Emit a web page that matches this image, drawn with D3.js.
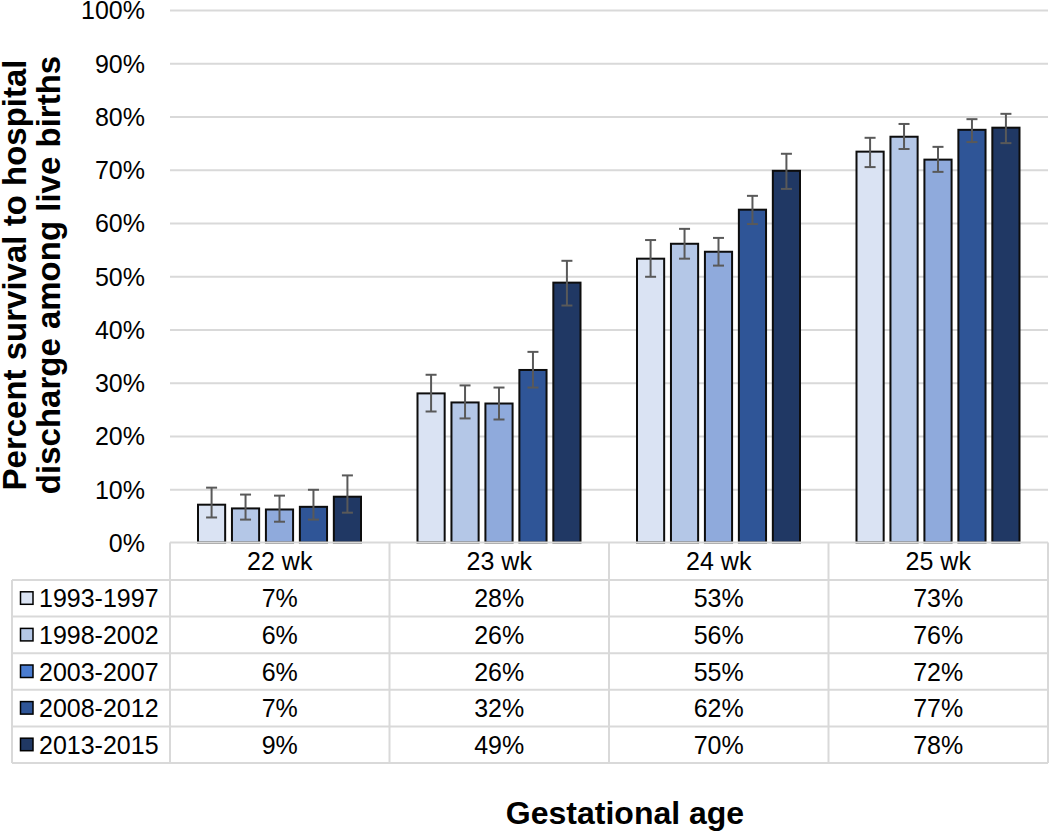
<!DOCTYPE html>
<html>
<head>
<meta charset="utf-8">
<script src="https://cdn.jsdelivr.net/npm/d3@7"></script>
<style>
  html, body { margin: 0; padding: 0; background: #fff; }
  svg { display: block; font-family: "Liberation Sans", Arial, sans-serif; }
</style>
</head>
<body>
<svg id="chart" width="1050" height="832"></svg>
<script>
// ---- data ----
const categories = ["22 wk", "23 wk", "24 wk", "25 wk"];
const seriesNames = ["1993-1997", "1998-2002", "2003-2007", "2008-2012", "2013-2015"];
const values1993 = [7.1, 28.0, 53.3, 73.4];
const values1998 = [6.4, 26.3, 56.1, 76.2];
const values2003 = [6.2, 26.1, 54.6, 71.9];
const values2008 = [6.7, 32.4, 62.5, 77.5];
const values2013 = [8.6, 48.8, 69.8, 77.9];
const low1993 = [4.7, 24.6, 49.9, 70.5];
const low1998 = [4.3, 23.3, 53.3, 73.9];
const low2003 = [3.9, 23.1, 52.0, 69.6];
const low2008 = [4.3, 29.1, 59.8, 75.2];
const low2013 = [5.6, 44.5, 66.4, 75.0];
const high1993 = [10.3, 31.5, 56.8, 76.0];
const high1998 = [9.0, 29.5, 58.9, 78.6];
const high2003 = [8.8, 29.1, 57.2, 74.3];
const high2008 = [9.9, 35.8, 65.1, 79.5];
const high2013 = [12.6, 52.9, 73.0, 80.5];
const table1993 = ["7%", "28%", "53%", "73%"];
const table1998 = ["6%", "26%", "56%", "76%"];
const table2003 = ["6%", "26%", "55%", "72%"];
const table2008 = ["7%", "32%", "62%", "77%"];
const table2013 = ["9%", "49%", "70%", "78%"];
const yTicks = [0, 10, 20, 30, 40, 50, 60, 70, 80, 90, 100];

const barColors = ["#dae3f3", "#b4c7e7", "#8faadc", "#2f5597", "#203864"];
const swatchColors = ["#dae3f3", "#b4c7e7", "#4a7cd0", "#2f5597", "#203864"];

const series = seriesNames.map((name, i) => ({
  name,
  values: [values1993, values1998, values2003, values2008, values2013][i],
  low: [low1993, low1998, low2003, low2008, low2013][i],
  high: [high1993, high1998, high2003, high2008, high2013][i],
  table: [table1993, table1998, table2003, table2008, table2013][i]
}));

// ---- layout ----
const svg = d3.select("#chart");
const plotLeft = 170, plotRight = 1048, plotTop = 10, plotBottom = 542.5;
const tableLeft = 12, headerBottom = 580, rowH = 36.6;
const gridColor = "#d9d9d9";
const fontSize = 25;

const x0 = d3.scaleBand().domain(categories).range([plotLeft, plotRight]);
const x1 = d3.scaleBand().domain(seriesNames).range([28, x0.bandwidth() - 28.5]).paddingInner(0.2);
const y = d3.scaleLinear().domain([0, 100]).range([plotBottom, plotTop]);

// gridlines
const gridAxis = d3.axisLeft(y).tickValues(yTicks.slice(1)).tickSize(-(plotRight - plotLeft)).tickFormat("");
const gg = svg.append("g").attr("transform", `translate(${plotLeft},0)`).call(gridAxis);
gg.select(".domain").remove();
gg.selectAll("line").attr("stroke", gridColor).attr("stroke-width", 2);

// y tick labels
const yAxis = d3.axisLeft(y).tickValues(yTicks).tickSize(0).tickPadding(25).tickFormat(d => d + "%");
const ya = svg.append("g").attr("transform", `translate(${plotLeft},0)`).call(yAxis);
ya.select(".domain").remove();
ya.selectAll("text").attr("font-size", fontSize).attr("fill", "#000")
  .attr("font-family", "'Liberation Sans', Arial, sans-serif").attr("dy", "0.35em");

// bars
const groups = svg.append("g").selectAll("g").data(series).join("g");
groups.each(function (s, si) {
  const g = d3.select(this);
  categories.forEach((c, ci) => {
    const bx = x0(c) + x1(s.name);
    g.append("rect")
      .attr("x", bx).attr("y", y(s.values[ci]))
      .attr("width", x1.bandwidth()).attr("height", y(0) - y(s.values[ci]))
      .attr("fill", barColors[si]).attr("stroke", "#0d0d0d").attr("stroke-width", 2);
  });
});

// error bars
groups.each(function (s) {
  const g = d3.select(this);
  categories.forEach((c, ci) => {
    const cx = x0(c) + x1(s.name) + x1.bandwidth() / 2;
    const yl = y(s.low[ci]), yh = y(s.high[ci]);
    const eb = g.append("g").attr("stroke", "#595959").attr("stroke-width", 2);
    eb.append("line").attr("x1", cx).attr("x2", cx).attr("y1", yl).attr("y2", yh);
    eb.append("line").attr("x1", cx - 5.5).attr("x2", cx + 5.5).attr("y1", yl).attr("y2", yl);
    eb.append("line").attr("x1", cx - 5.5).attr("x2", cx + 5.5).attr("y1", yh).attr("y2", yh);
  });
});

// ---- data table ----
const tb = svg.append("g").attr("stroke", gridColor).attr("stroke-width", 2);
const tableBottom = headerBottom + rowH * series.length;
tb.append("line").attr("x1", plotLeft).attr("x2", plotRight).attr("y1", plotBottom).attr("y2", plotBottom);
for (let i = 0; i <= series.length; i++) {
  const yy = headerBottom + rowH * i;
  tb.append("line").attr("x1", tableLeft).attr("x2", plotRight).attr("y1", yy).attr("y2", yy);
}
tb.append("line").attr("x1", tableLeft).attr("x2", tableLeft).attr("y1", headerBottom).attr("y2", tableBottom);
categories.forEach(c => {
  tb.append("line").attr("x1", x0(c)).attr("x2", x0(c)).attr("y1", plotBottom).attr("y2", tableBottom);
});
tb.append("line").attr("x1", plotRight).attr("x2", plotRight).attr("y1", plotBottom).attr("y2", tableBottom);

// header labels
svg.append("g").selectAll("text").data(categories).join("text")
  .attr("x", d => x0(d) + x0.bandwidth() / 2)
  .attr("y", (plotBottom + headerBottom) / 2 + 8.5)
  .attr("text-anchor", "middle").attr("font-size", fontSize).attr("fill", "#000")
  .text(d => d);

// row labels + values
series.forEach((s, si) => {
  const cy = headerBottom + rowH * si + rowH / 2;
  svg.append("rect").attr("x", 20.5).attr("y", cy - 6.5).attr("width", 12.5).attr("height", 12.5)
    .attr("fill", swatchColors[si]).attr("stroke", "#000").attr("stroke-width", 1.5);
  svg.append("text").attr("x", 39).attr("y", cy + 9).attr("font-size", fontSize).attr("fill", "#000").text(s.name);
  categories.forEach((c, ci) => {
    svg.append("text").attr("x", x0(c) + x0.bandwidth() / 2).attr("y", cy + 9)
      .attr("text-anchor", "middle").attr("font-size", fontSize).attr("fill", "#000").text(s.table[ci]);
  });
});

// axis titles
const yt = svg.append("text").attr("transform", "translate(0,275) rotate(-90)")
  .attr("text-anchor", "middle").attr("font-size", 33).attr("font-weight", "bold").attr("fill", "#000");
yt.append("tspan").attr("x", 0).attr("y", 26).text("Percent survival to hospital");
yt.append("tspan").attr("x", 0).attr("y", 60).text("discharge among live births");

svg.append("text").attr("x", 625).attr("y", 824).attr("text-anchor", "middle")
  .attr("font-size", 32).attr("font-weight", "bold").attr("fill", "#000").text("Gestational age");
</script>
</body>
</html>
